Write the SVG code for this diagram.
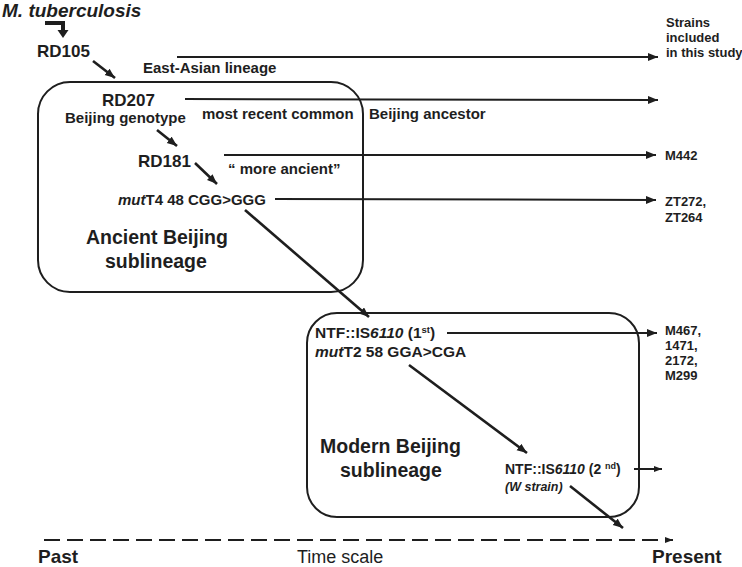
<svg xmlns="http://www.w3.org/2000/svg" width="742" height="567" viewBox="0 0 742 567">
<style>
text{font-family:"Liberation Sans",Arial,sans-serif;fill:#1e1e1e;font-weight:bold}
.b{font-size:17px}
.m{font-size:15px}
.s{font-size:13px}
.big{font-size:19.5px}
.it{font-style:italic}
.reg{font-weight:normal}
.ln{stroke:#1e1e1e;fill:none;stroke-width:2}
.dg{stroke:#1e1e1e;fill:none;stroke-width:2.6}
.box{stroke:#1e1e1e;fill:none;stroke-width:2}
</style>
<defs>
<marker id="ah" markerUnits="userSpaceOnUse" markerWidth="12" markerHeight="10" refX="10" refY="4" orient="auto" viewBox="0 0 12 10">
<path d="M0,0 L10,4 L0,8 z" fill="#1e1e1e"/>
</marker>
<marker id="ahs" markerUnits="userSpaceOnUse" markerWidth="10" markerHeight="8" refX="8" refY="3" orient="auto" viewBox="0 0 10 8">
<path d="M0,0 L8,3 L0,6 z" fill="#1e1e1e"/>
</marker>
</defs>
<rect width="742" height="567" fill="#fff"/>

<g id="boxes">
<rect id="ancient-box" class="box" x="38" y="82" width="325" height="210" rx="32" ry="32"/>
<rect id="modern-box" class="box" x="307" y="313" width="332" height="204" rx="30" ry="30"/>
</g>

<g id="connectors">
<path d="M45,23 H63 V31" stroke="#1e1e1e" stroke-width="4" fill="none"/>
<path d="M57.5,30 L68.5,30 L63,38 z" fill="#1e1e1e"/>
<line class="dg" x1="93" y1="61" x2="115" y2="78" marker-end="url(#ah)"/>
<line class="ln" x1="177" y1="57" x2="658" y2="57" marker-end="url(#ah)"/>
<line class="ln" x1="185" y1="99" x2="658" y2="100" marker-end="url(#ah)"/>
<line class="dg" x1="157" y1="130" x2="177" y2="146" marker-end="url(#ah)"/>
<line class="ln" x1="224" y1="155" x2="656" y2="155" marker-end="url(#ah)"/>
<line class="dg" x1="195" y1="163" x2="217" y2="184" marker-end="url(#ah)"/>
<line class="ln" x1="275" y1="199" x2="656" y2="200" marker-end="url(#ah)"/>
<line class="dg" x1="245" y1="210" x2="369" y2="317" marker-end="url(#ah)"/>
<line class="ln" x1="447" y1="333" x2="657" y2="333" marker-end="url(#ah)"/>
<line class="dg" x1="409" y1="365" x2="527" y2="453" marker-end="url(#ah)"/>
<line class="ln" x1="634" y1="469" x2="662" y2="469" marker-end="url(#ahs)"/>
<line class="dg" x1="570" y1="486" x2="623" y2="528" marker-end="url(#ah)"/>
<line class="ln" x1="44" y1="540" x2="673" y2="540" stroke-width="2.6" stroke-dasharray="16,7" marker-end="url(#ahs)"/>
</g>

<g id="mtb"><text x="2" y="17" font-size="19" class="it">M. tuberculosis</text></g>
<g id="rd105"><text x="37" y="57" class="b">RD105</text></g>
<g id="east-asian"><text x="143" y="73" class="m">East-Asian lineage</text></g>
<g id="strains-header">
<text x="666" y="27" class="s">Strains</text>
<text x="666" y="42" class="s">included</text>
<text x="666" y="57" class="s">in this study</text>
</g>
<g id="rd207">
<text x="102" y="106" class="b">RD207</text>
<text x="65" y="123" class="m">Beijing genotype</text>
</g>
<g id="mrca">
<text x="202" y="119" class="m">most recent common</text>
<text x="369" y="119" class="m">Beijing ancestor</text>
</g>
<g id="rd181"><text x="138" y="167" class="b">RD181</text></g>
<g id="more-ancient"><text x="228" y="174" class="m">“ more ancient”</text></g>
<g id="m442"><text x="665" y="160" class="s">M442</text></g>
<g id="mutT4"><text x="118" y="205" class="m"><tspan class="it">mut</tspan>T4 48 CGG&gt;GGG</text></g>
<g id="zt">
<text x="665" y="206" class="s">ZT272,</text>
<text x="665" y="222" class="s">ZT264</text>
</g>
<g id="ancient-label">
<text x="86" y="244" class="big">Ancient Beijing</text>
<text x="105" y="268" class="big">sublineage</text>
</g>
<g id="ntf1">
<text x="315" y="338" font-size="15.5">NTF::IS<tspan class="it">6110</tspan> (1<tspan font-size="9.5" dy="-5">st</tspan><tspan dy="5">)</tspan></text>
<text x="315" y="357" font-size="15.5"><tspan class="it">mut</tspan>T2 58 GGA&gt;CGA</text>
</g>
<g id="strains-modern">
<text x="665" y="335" class="s">M467,</text>
<text x="665" y="350" class="s">1471,</text>
<text x="665" y="365" class="s">2172,</text>
<text x="665" y="380" class="s">M299</text>
</g>
<g id="modern-label">
<text x="320" y="453" class="big">Modern Beijing</text>
<text x="340" y="477" class="big">sublineage</text>
</g>
<g id="ntf2">
<text x="505" y="474" font-size="14">NTF::IS<tspan class="it">6110</tspan> (2 <tspan font-size="9" dy="-5">nd</tspan><tspan dy="5">)</tspan></text>
<text x="505" y="491" font-size="12.5" class="it">(W strain)</text>
</g>
<g id="timeline">
<text x="38" y="563" font-size="19">Past</text>
<text x="297" y="563" font-size="18" class="reg">Time scale</text>
<text x="652" y="563" font-size="19">Present</text>
</g>
</svg>
